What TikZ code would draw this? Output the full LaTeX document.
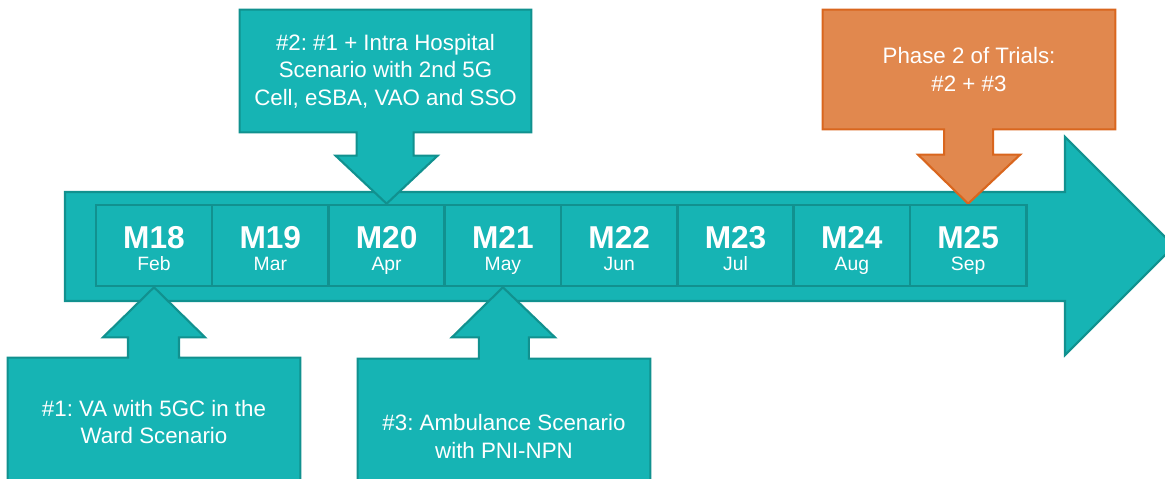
\documentclass[tikz,border=0pt]{standalone}
\usepackage{fontspec}
\setmainfont{Liberation Sans}
\usetikzlibrary{positioning,calc,backgrounds}
\definecolor{tealfill}{HTML}{16B4B4}
\definecolor{tealline}{HTML}{11918F}
\definecolor{orangefill}{HTML}{E1884E}
\definecolor{orangeline}{HTML}{D9661E}
\frenchspacing

\begin{document}
\begin{tikzpicture}[x=0.02cm,y=-0.02cm,
  cell/.style={draw=tealline,line width=1.5pt,minimum width=2.326cm,minimum height=1.62cm,inner sep=0pt},
  month/.style={text=white,anchor=base,font=\bfseries\fontsize{18}{20}\selectfont},
  sub/.style={text=white,anchor=base,font=\fontsize{11}{13}\selectfont},
  callout/.style={draw=tealline,fill=tealfill,line width=1.2pt,line join=miter},
  phase/.style={draw=orangeline,fill=orangefill,line width=1.2pt,line join=miter},
  note/.style={text=white,align=center,inner sep=0pt,minimum width=5.82cm,font=\fontsize{12.7}{15.6}\selectfont}]
\useasboundingbox (0,0) rectangle (1165,479);
\clip (0,0) rectangle (1165,479);

% timeline arrow
\begin{scope}[on background layer]
\draw[callout] (65,192) -- (1065,192) -- (1065,137) -- (1174,246) -- (1065,355) -- (1065,301) -- (65,301) -- cycle;
\end{scope}

% months
\foreach \m/\mon [count=\i from 0] in {18/Feb,19/Mar,20/Apr,21/May,22/Jun,23/Jul,24/Aug,25/Sep}{
  \node[cell] (m\m) at ({154+116.3*\i},245.5) {};
  \node[month] (t\m) at ({154+116.3*\i},248.5) {M\m};
  \node[sub] (s\m) at ({154+116.3*\i},271) {\mon};
}

% boxes
\node[note,minimum height=2.44cm] (b2) at (385.5,71) {\#2: \#1 + Intra Hospital\\Scenario with 2nd 5G\\Cell, eSBA, VAO and SSO};
\node[note,minimum height=2.38cm,minimum width=5.84cm] (ph) at (969,69.5) {Phase 2 of Trials:\\\#2 + \#3};
\node[note,minimum height=2.56cm,minimum width=5.84cm] (b1) at (154,422) {\#1: VA with 5GC in the\\Ward Scenario};
\node[note,minimum height=3.1cm,minimum width=5.84cm] (b3) at (504,436.5) {\#3: Ambulance Scenario\\with PNI-NPN};

% arrow points
\coordinate (p2r) at ($(m20.north)+(27,-48)$);
\coordinate (p2l) at ($(m20.north)+(-30,-48)$);
\coordinate (pPr) at ($(m25.north)+(25,-49)$);
\coordinate (pPl) at ($(m25.north)+(-24,-49)$);
\coordinate (p1r) at ($(m18.south)+(25,50)$);
\coordinate (p1l) at ($(m18.south)+(-26,50)$);
\coordinate (p3r) at ($(m21.south)+(26,50)$);
\coordinate (p3l) at ($(m21.south)+(-24,50)$);

\begin{scope}[on background layer]
\draw[callout] (b2.south west) -- (b2.north west) -- (b2.north east) -- (b2.south east)
  -- (p2r |- b2.south) -- (p2r) -- ($(m20.north)+(51,-48)$) -- (m20.north)
  -- ($(m20.north)+(-51,-48)$) -- (p2l) -- (p2l |- b2.south) -- cycle;
\draw[phase] (ph.south west) -- (ph.north west) -- (ph.north east) -- (ph.south east)
  -- (pPr |- ph.south) -- (pPr) -- ($(m25.north)+(52,-49)$) -- (m25.north)
  -- ($(m25.north)+(-50,-49)$) -- (pPl) -- (pPl |- ph.south) -- cycle;
\draw[callout] (b1.north west) -- (b1.south west) -- (b1.south east) -- (b1.north east)
  -- (p1r |- b1.north) -- (p1r) -- ($(m18.south)+(51,50)$) -- (m18.south)
  -- ($(m18.south)+(-51,50)$) -- (p1l) -- (p1l |- b1.north) -- cycle;
\draw[callout] (b3.north west) -- (b3.south west) -- (b3.south east) -- (b3.north east)
  -- (p3r |- b3.north) -- (p3r) -- ($(m21.south)+(52,50)$) -- (m21.south)
  -- ($(m21.south)+(-51,50)$) -- (p3l) -- (p3l |- b3.north) -- cycle;
\end{scope}
\end{tikzpicture}
\end{document}
